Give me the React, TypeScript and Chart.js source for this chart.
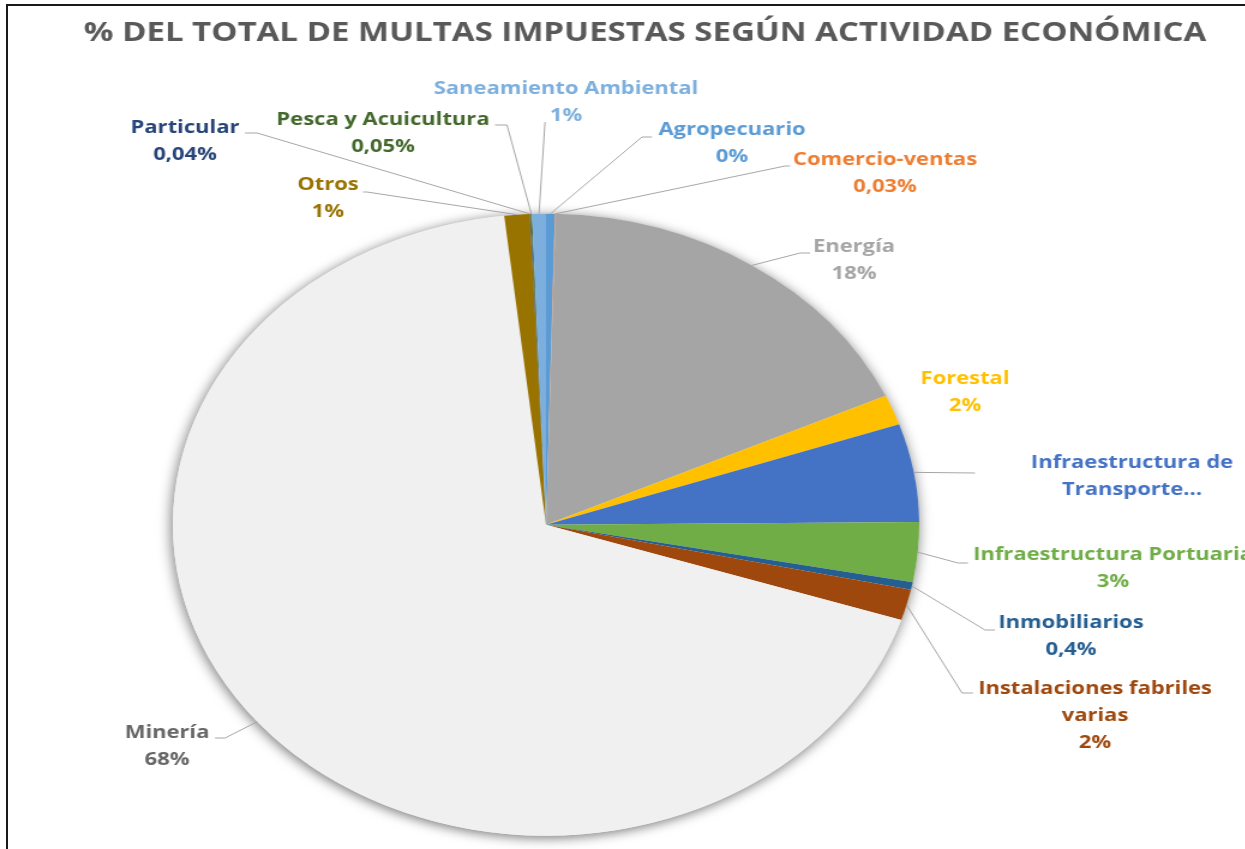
import React, { useEffect, useRef } from "react";
import { Chart, registerables } from "chart.js";

Chart.register(...registerables);

// ---------- data ----------
const categories = [
  "Agropecuario",
  "Comercio-ventas",
  "Energía",
  "Forestal",
  "Infraestructura de Transporte",
  "Infraestructura Portuaria",
  "Inmobiliarios",
  "Instalaciones fabriles varias",
  "Minería",
  "Otros",
  "Particular",
  "Pesca y Acuicultura",
  "Saneamiento Ambiental",
];
const shares = [0.38, 0.03, 17.8, 1.56, 5.1, 3.1, 0.4, 1.6, 68.3, 1.1, 0.04, 0.05, 0.6];
const percentLabels = ["0%", "0,03%", "18%", "2%", "", "3%", "0,4%", "2%", "68%", "1%", "0,04%", "0,05%", "1%"];
const labelLines = [
  ["Agropecuario"],
  ["Comercio-ventas"],
  ["Energía"],
  ["Forestal"],
  ["Infraestructura de", "Transporte..."],
  ["Infraestructura Portuaria"],
  ["Inmobiliarios"],
  ["Instalaciones fabriles", "varias"],
  ["Minería"],
  ["Otros"],
  ["Particular"],
  ["Pesca y Acuicultura"],
  ["Saneamiento Ambiental"],
];
const sliceColors = [
  "#5B9BD5", "#ED7D31", "#A5A5A5", "#FFC000", "#4472C4", "#70AD47", "#255E91",
  "#9E480E", "#F0F0F0", "#997300", "#264478", "#43682B", "#7CAFDD",
];
const labelColors = [
  "#5B9BD5", "#ED7D31", "#A5A5A5", "#FFC000", "#4472C4", "#70AD47", "#255E91",
  "#9E480E", "#666666", "#997300", "#264478", "#43682B", "#7CAFDD",
];
const TITLE = "% DEL TOTAL DE MULTAS IMPUESTAS SEGÚN ACTIVIDAD ECONÓMICA";

// ---------- layout (page pixels) ----------
const STRETCH = 1.2;
const CANVAS_W = 1038;
const CANVAS_H = 849;
const LINE_GAP = 27;
const LABEL_LAYOUT: { x: number; y: number; path: number[][] | null }[] = [
  { x: 732, y: 130, path: [[642, 137], [652, 137]] },
  { x: 885, y: 160, path: [[785, 166], [790, 166]] },
  { x: 854, y: 247, path: [[800, 253], [810, 253]] },
  { x: 965, y: 379, path: null },
  { x: 1132, y: 463, path: [[975, 473]] },
  { x: 1113, y: 555, path: [[958, 563], [968, 563]] },
  { x: 1071, y: 623, path: [[985, 630], [995, 630]] },
  { x: 1095, y: 689, path: [[962, 693], [973, 693]] },
  { x: 167, y: 733, path: [[225, 738], [215, 738]] },
  { x: 328, y: 185, path: [[367, 192], [363, 192]] },
  { x: 185, y: 128, path: [[257, 133], [245, 133]] },
  { x: 383, y: 120, path: [[507, 125], [495, 125]] },
  { x: 566, y: 89, path: [[545, 122]] },
];

const overlayPlugin = {
  id: "overlay",
  beforeDatasetsDraw(chart: any) {
    const ctx = chart.ctx;
    const arc = chart.getDatasetMeta(0).data[0];
    if (!arc) return;
    ctx.save();
    ctx.shadowColor = "rgba(0,0,0,0.55)";
    ctx.shadowBlur = 12;
    ctx.shadowOffsetX = -1;
    ctx.shadowOffsetY = 2;
    ctx.fillStyle = "#F0F0F0";
    ctx.beginPath();
    ctx.arc(arc.x, arc.y, arc.outerRadius, 0, Math.PI * 2);
    ctx.fill();
    ctx.restore();
  },
  afterDatasetsDraw(chart: any) {
    const ctx = chart.ctx;
    const meta = chart.getDatasetMeta(0);
    ctx.save();
    // title
    ctx.font = "bold 27.5px 'Open Sans'";
    ctx.fillStyle = "#595959";
    ctx.textAlign = "center";
    ctx.textBaseline = "middle";
    ctx.fillText(TITLE, 645 / STRETCH, 33);

    // leader lines
    ctx.strokeStyle = "#A6A6A6";
    ctx.lineWidth = 1;
    meta.data.forEach((el: any, i: number) => {
      const lay = LABEL_LAYOUT[i];
      if (!lay.path) return;
      const mid = (el.startAngle + el.endAngle) / 2;
      const sx = el.x + el.outerRadius * Math.cos(mid);
      const sy = el.y + el.outerRadius * Math.sin(mid);
      ctx.beginPath();
      ctx.moveTo(sx, sy);
      lay.path.forEach((p) => ctx.lineTo(p[0] / STRETCH, p[1]));
      ctx.stroke();
    });

    // labels
    ctx.font = "bold 18.3px 'Open Sans'";
    meta.data.forEach((_el: any, i: number) => {
      const lay = LABEL_LAYOUT[i];
      const lines = [...labelLines[i]];
      if (percentLabels[i]) lines.push(percentLabels[i]);
      ctx.fillStyle = labelColors[i];
      lines.forEach((t, k) => ctx.fillText(t, lay.x / STRETCH, lay.y + k * LINE_GAP));
    });
    ctx.restore();
  },
};

export default function App() {
  const ref = useRef<HTMLCanvasElement | null>(null);
  useEffect(() => {
    if (!ref.current) return;
    const chart = new Chart(ref.current, {
      type: "pie",
      data: {
        labels: categories,
        datasets: [
          {
            data: shares,
            backgroundColor: sliceColors,
            borderWidth: 0,
          },
        ],
      },
      options: {
        animation: false,
        responsive: false,
        layout: { padding: { top: 213.5, bottom: 13, left: 144, right: 272 } },
        plugins: { legend: { display: false }, title: { display: false }, tooltip: { enabled: false } },
      },
      plugins: [overlayPlugin],
    });
    return () => chart.destroy();
  }, []);

  return (
    <div style={{ position: "fixed", left: 0, top: 0, width: 1245, height: 849, overflow: "hidden", background: "#fff" }}>
      <div
        style={{
          position: "absolute",
          left: 0,
          top: 0,
          width: CANVAS_W,
          height: CANVAS_H,
          transform: `scaleX(${STRETCH})`,
          transformOrigin: "0 0",
        }}
      >
        <canvas ref={ref} width={CANVAS_W} height={CANVAS_H} style={{ width: CANVAS_W, height: CANVAS_H, display: "block" }} />
      </div>
      <div
        style={{
          position: "absolute",
          left: 6,
          top: 4,
          width: 1400,
          height: 1000,
          borderLeft: "2px solid #1a1a1a",
          borderTop: "2px solid #1a1a1a",
          pointerEvents: "none",
        }}
      />
    </div>
  );
}
